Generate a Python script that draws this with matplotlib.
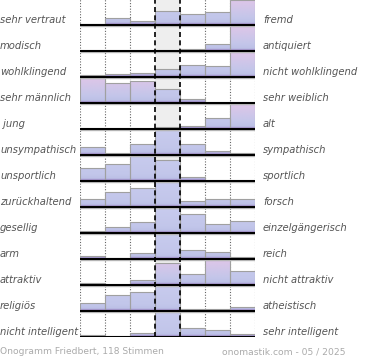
import numpy as np
import matplotlib
matplotlib.use("Agg")
import matplotlib.pyplot as plt
from matplotlib.colors import LinearSegmentedColormap
from matplotlib.transforms import blended_transform_factory

# adjective pairs (left pole / right pole)
left_labels = ["sehr vertraut", "modisch", "wohlklingend", "sehr männlich", " jung",
               "unsympathisch", "unsportlich", "zurückhaltend", "gesellig", "arm",
               "attraktiv", "religiös", "nicht intelligent"]
right_labels = ["fremd", "antiquiert", "nicht wohlklingend", "sehr weiblich", "alt",
                "sympathisch", "sportlich", "forsch", "einzelgängerisch", "reich",
                "nicht attraktiv", "atheistisch", "sehr intelligent"]

# share of votes per scale step, in percent of the row maximum
shares = [
    [4, 27, 18, 58, 46, 54, 100],
    [0, 1.5, 1.5, 1.5, 7, 28, 100],
    [7, 11, 17, 32, 49, 45, 100],
    [100, 82, 90, 58, 17, 0, 0],
    [0, 0, 2, 10, 14, 44, 100],
    [31, 9, 44, 100, 44, 17, 9],
    [54, 70, 100, 84, 18, 0, 0],
    [32, 60, 76, 100, 25, 31, 31],
    [8, 24, 43, 100, 78, 38, 48],
    [12, 5, 23, 100, 36, 27, 9],
    [9, 0, 21, 89, 44, 100, 55],
    [32, 66, 78, 100, 9, 9, 16],
    [8, 0, 16, 100, 38, 28, 12],
]

footer_left = "Onogramm Friedbert, 118 Stimmen"
footer_right = "onomastik.com - 05 / 2025"

# bars drawn with the pink top tint
pink_bars = {(0, 6), (1, 6), (2, 6), (3, 0), (3, 1), (3, 2), (4, 6), (10, 3), (10, 5)}

n_rows = len(shares)
n_cols = len(shares[0])
full = 0.96  # max bar height in row units

cmap_blue = LinearSegmentedColormap.from_list(
    "blue", [(0, "#9c8cc6"), (0.06, "#a898d0"), (0.1, "#bcc0e6"), (0.25, "#c2c6ea"), (1, "#c8cbee")])
cmap_pink = LinearSegmentedColormap.from_list(
    "pink", [(0, "#9c8cc6"), (0.06, "#a898d0"), (0.1, "#bcc0e6"), (0.3, "#c4c6ea"), (1, "#dec6e8")])
grad = np.linspace(0, 1, 256).reshape(-1, 1)

fig = plt.figure(figsize=(3.7, 3.6), dpi=100)
ax = fig.add_axes([80 / 370, 23 / 360, 175 / 370, 338 / 360])
ax.axis("off")

# neutral middle column
ax.axvspan(3, 4, color="#eeeeee", zorder=0, lw=0)

for i, row in enumerate(shares):
    base = i + 1
    for c, v in enumerate(row):
        h = v / 100 * full
        if h <= 0:
            continue
        bar = ax.bar(c, -h, bottom=base, width=1, align="edge",
                     facecolor="none", edgecolor="#a0a0a0", lw=0.8, zorder=3)[0]
        cmap = cmap_pink if (i, c) in pink_bars else cmap_blue
        im = ax.imshow(grad, extent=(c, c + 1, base, base - full), origin="lower",
                       aspect="auto", cmap=cmap, vmin=0, vmax=1, zorder=2)
        im.set_clip_path(bar)
    ax.hlines(base + 0.045, 0, n_cols, color="#bdbdbd", lw=1.0, zorder=4)
    ax.hlines(base, 0, n_cols, color="black", lw=1.5, zorder=5)

for x in [0, 1, 2, 5, 6, 7]:
    ax.axvline(x, color="#666666", lw=0.8, ls=(0, (1, 1.5)), zorder=1)
for x in [3, 4]:
    ax.axvline(x, color="black", lw=1.2, ls=(0, (3, 2)), zorder=6)

ax.set_xlim(0, n_cols)
ax.set_ylim(n_rows, 0)

trans = blended_transform_factory(fig.transFigure, ax.transData)
for i in range(n_rows):
    y = i + 1 - 0.2
    ax.text(0.0, y, left_labels[i], transform=trans, ha="left", va="center",
            fontsize=7.2, style="italic", color="#555555")
    ax.text(263 / 370, y, right_labels[i], transform=trans, ha="left", va="center",
            fontsize=7.2, style="italic", color="#555555")

fig.text(0.0, 8 / 360, footer_left, ha="left", va="center", fontsize=6.6, color="#aaaaaa")
fig.text(346 / 370, 8 / 360, footer_right, ha="right", va="center", fontsize=6.6, color="#aaaaaa")

fig.savefig("out.png", dpi=100)
